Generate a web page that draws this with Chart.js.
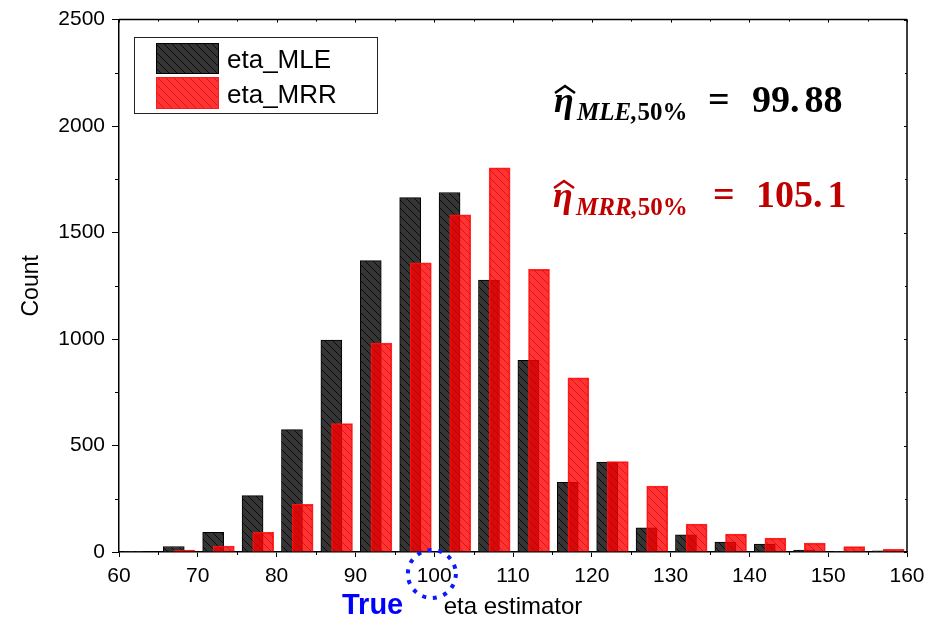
<!DOCTYPE html>
<html>
<head>
<meta charset="utf-8">
<script src="https://cdn.jsdelivr.net/npm/chart.js@4.4.1/dist/chart.umd.min.js"></script>
<style>
  body { margin: 0; background: #fff; }
  #wrap { width: 933px; height: 630px; }
</style>
</head>
<body>
<div id="wrap"><canvas id="histChart" width="933" height="630"></canvas></div>
<script>
// histogram bins (left edge of each 5-wide bin)
const binStart = [60, 65, 70, 75, 80, 85, 90, 95, 100, 105, 110, 115, 120, 125, 130, 135, 140, 145, 150, 155];
const mleCounts = [3, 26, 92, 265, 575, 995, 1368, 1664, 1688, 1277, 900, 327, 422, 114, 81, 47, 37, 9, 3, 5];
const mrrCounts = [0, 9, 28, 92, 224, 603, 981, 1358, 1583, 1804, 1327, 818, 424, 310, 131, 84, 65, 42, 25, 13];
const xTicks = [60, 70, 80, 90, 100, 110, 120, 130, 140, 150, 160];
const yTicks = [0, 500, 1000, 1500, 2000, 2500];
const seriesNames = ['eta_MLE', 'eta_MRR'];

// where each bar sits inside its bin
const mleShift = 1.95;
const mrrShift = 3.3;

const SANS = '"Liberation Sans", Arial, sans-serif';
const SERIF = '"Liberation Serif", "Times New Roman", serif';

function makeHatch(fill, line) {
    const s = 8;
    const c = document.createElement('canvas');
    c.width = s; c.height = s;
    const g = c.getContext('2d');
    g.fillStyle = fill;
    g.fillRect(0, 0, s, s);
    g.strokeStyle = line;
    g.lineWidth = 1;
    g.beginPath();
    g.moveTo(0, 0); g.lineTo(s, s);
    g.moveTo(-1, s - 1); g.lineTo(1, s + 1);
    g.moveTo(s - 1, -1); g.lineTo(s + 1, 1);
    g.stroke();
    return g.createPattern(c, 'repeat');
}

const mleFill = makeHatch('#353535', '#0a0a0a');
const mrrFill = makeHatch('rgba(255,0,0,0.8)', 'rgba(190,0,0,0.55)');

// frame, minor ticks, legend and text notes
const extras = {
    id: 'extras',
    afterDraw(chart) {
        const ctx = chart.ctx;
        const a = chart.chartArea;
        const xs = chart.scales.x, ys = chart.scales.y;
        ctx.save();
        ctx.strokeStyle = '#000';
        ctx.lineWidth = 1.5;
        ctx.beginPath();
        ctx.moveTo(a.left, a.top); ctx.lineTo(a.right, a.top);
        ctx.moveTo(a.right, a.top); ctx.lineTo(a.right, a.bottom);
        ctx.stroke();

        ctx.lineWidth = 1;
        ctx.beginPath();
        for (let v = 60; v <= 160; v += 5) {
            const px = Math.round(xs.getPixelForValue(v)) + 0.5;
            const major = v % 10 === 0;
            if (!major) { ctx.moveTo(px, a.bottom); ctx.lineTo(px, a.bottom + 3); }
            ctx.moveTo(px, a.top); ctx.lineTo(px, a.top + (major ? 3 : 2));
        }
        for (let v = 0; v <= 2500; v += 250) {
            const py = Math.round(ys.getPixelForValue(v)) + 0.5;
            const major = v % 500 === 0;
            if (!major) { ctx.moveTo(a.left - 4, py); ctx.lineTo(a.left, py); }
            ctx.moveTo(a.right, py); ctx.lineTo(a.right - (major ? 3 : 2), py);
        }
        ctx.stroke();

        // legend
        ctx.strokeStyle = '#222';
        ctx.lineWidth = 1;
        ctx.strokeRect(134.5, 37.5, 243, 76);
        const sw = [[43, 31, mleFill, '#000', 68], [77, 32, mrrFill, '#ff1a1a', 103]];
        ctx.font = '26px ' + SANS;
        ctx.textBaseline = 'alphabetic';
        ctx.textAlign = 'left';
        sw.forEach((s, i) => {
            ctx.fillStyle = s[2];
            ctx.fillRect(156, s[0], 63, s[1]);
            ctx.strokeStyle = s[3];
            ctx.strokeRect(156.5, s[0] + 0.5, 62, s[1] - 1);
            ctx.fillStyle = '#000';
            ctx.fillText(seriesNames[i], 227, s[4]);
        });

        // estimate notes
        const note = (y, sub, val, color, x0, eqX, valX) => {
            ctx.fillStyle = color;
            ctx.strokeStyle = color;
            ctx.font = 'italic bold 36px ' + SERIF;
            ctx.fillText('\u03B7', x0, y);
            ctx.lineWidth = 2.5;
            ctx.beginPath();
            ctx.moveTo(x0 + 1, y - 19);
            ctx.lineTo(x0 + 11, y - 26);
            ctx.lineTo(x0 + 21, y - 19);
            ctx.stroke();
            ctx.font = 'italic bold 25px ' + SERIF;
            ctx.fillText(sub[0], x0 + 23, y + 8);
            const w = ctx.measureText(sub[0]).width;
            ctx.font = 'bold 25px ' + SERIF;
            ctx.fillText(sub[1], x0 + 23 + w, y + 8);
            ctx.font = 'bold 38px ' + SERIF;
            ctx.fillText('=', eqX, y);
            const parts = val.split('.');
            ctx.fillText(parts[0] + '.', valX, y);
            const w2 = ctx.measureText(parts[0] + '.').width;
            ctx.fillText(parts[1], valX + w2 + 5, y);
        };
        note(112, ['MLE,', '50%'], '99.88', '#000', 554, 708, 752);
        note(207, ['MRR,', '50%'], '105.1', '#c00000', 553, 713, 756);

        // true value marker
        ctx.fillStyle = '#0000ff';
        ctx.font = 'bold 29px ' + SANS;
        ctx.fillText('True', 342, 614);
        ctx.strokeStyle = '#0a1aff';
        ctx.lineWidth = 4;
        ctx.setLineDash([4, 6.8]);
        ctx.beginPath();
        ctx.arc(xs.getPixelForValue(99.7), 574, 24, 0, Math.PI * 2);
        ctx.stroke();
        ctx.setLineDash([]);
        ctx.restore();
    }
};

const chart = new Chart(document.getElementById('histChart'), {
    type: 'bar',
    data: {
        datasets: [{
            label: seriesNames[0],
            data: binStart.map((b, i) => ({ x: b + mleShift, y: mleCounts[i] })),
            backgroundColor: mleFill,
            borderColor: '#000',
            borderWidth: 1,
            order: 2
        }, {
            label: seriesNames[1],
            data: binStart.map((b, i) => ({ x: b + mrrShift, y: mrrCounts[i] })),
            backgroundColor: mrrFill,
            borderColor: 'rgba(255,20,20,0.9)',
            borderWidth: 1,
            order: 1
        }]
    },
    options: {
        responsive: false,
        animation: false,
        grouped: false,
        barThickness: 21,
        layout: { padding: { top: 18, right: 26, left: 0, bottom: 0 } },
        scales: {
            x: {
                type: 'linear',
                min: 60,
                max: 160,
                offset: false,
                afterFit: (s) => { s.height = 78; },
                afterBuildTicks: (s) => { s.ticks = xTicks.map(v => ({ value: v })); },
                ticks: { color: '#000', padding: 7, font: { family: SANS, size: 21 }, callback: (v) => String(v) },
                grid: { offset: false, drawOnChartArea: false, color: '#000', lineWidth: 1, tickLength: 5 },
                border: { color: '#000', width: 1.5 },
                title: { display: true, text: 'eta estimator', color: '#000', font: { family: SANS, size: 24 }, padding: { top: 0, bottom: 8 } }
            },
            y: {
                min: 0,
                max: 2500,
                afterFit: (s) => { s.width = 119; },
                afterBuildTicks: (s) => { s.ticks = yTicks.map(v => ({ value: v })); },
                ticks: { color: '#000', padding: 7, font: { family: SANS, size: 21 }, callback: (v) => String(v) },
                grid: { drawOnChartArea: false, color: '#000', lineWidth: 1, tickLength: 7 },
                border: { color: '#000', width: 1.5 },
                title: { display: true, text: 'Count', color: '#000', font: { family: SANS, size: 23 }, padding: { top: 18, bottom: 0 } }
            }
        },
        plugins: {
            legend: { display: false },
            tooltip: { enabled: false }
        }
    },
    plugins: [extras]
});
</script>
</body>
</html>
